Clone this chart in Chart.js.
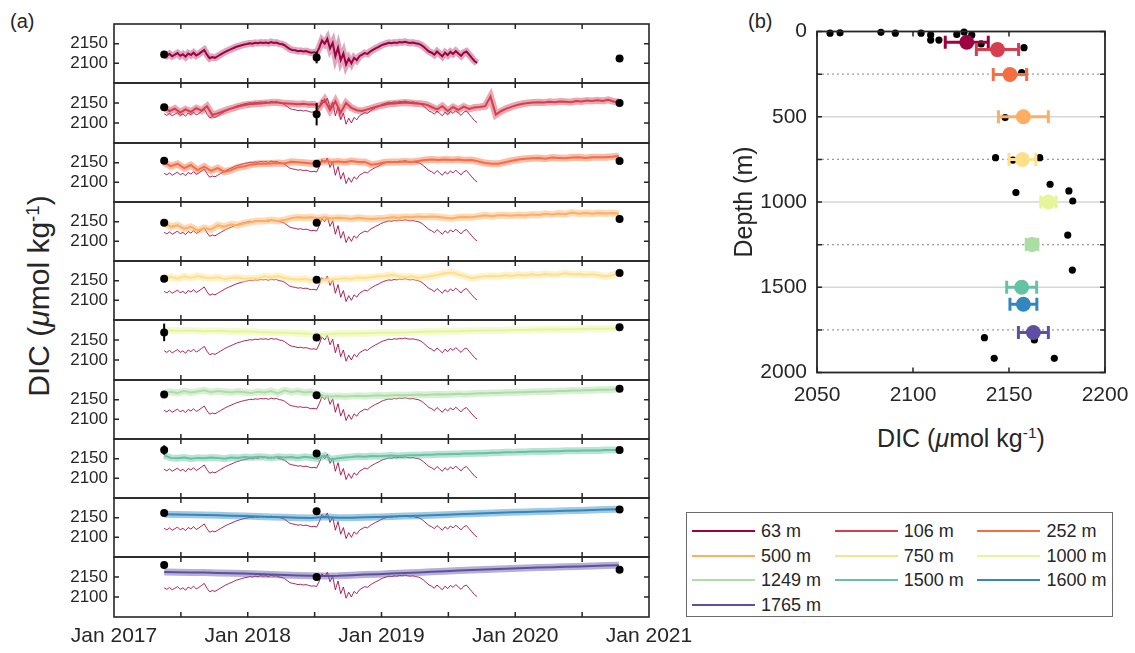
<!DOCTYPE html>
<html><head><meta charset="utf-8">
<script src="https://cdn.jsdelivr.net/npm/chart.js@4.4.0/dist/chart.umd.min.js"></script>
<style>
html,body{margin:0;padding:0;background:#fff;}
body{width:1135px;height:653px;position:relative;overflow:hidden;font-family:"Liberation Sans",Arial,sans-serif;color:#262626;}
canvas{position:absolute;}
.lbl{position:absolute;white-space:nowrap;line-height:1;}
.lbl sup{font-size:0.62em;vertical-align:0.55em;line-height:0;}
#legend{position:absolute;left:686px;top:512px;width:425px;height:103px;border:1px solid #6b6b6b;background:#fff;}
#legend .ln{position:absolute;height:2px;width:63px;}
#legend .tx{position:absolute;font-size:18px;line-height:1;color:#262626;white-space:nowrap;}
</style></head><body>
<div class="lbl" style="left:10px;top:11px;font-size:20px;">(a)</div>
<div class="lbl" style="left:748px;top:11px;font-size:20px;">(b)</div>
<div class="lbl" style="left:39px;top:296px;font-size:30px;transform:translate(-50%,-50%) rotate(-90deg);">DIC (<i>μ</i>mol kg<sup>-1</sup>)</div>
<div class="lbl" style="left:961px;top:438px;font-size:25px;transform:translate(-50%,-50%);">DIC (<i>μ</i>mol kg<sup>-1</sup>)</div>
<div id="legend"></div>
<script>
// ---------------- data ----------------
const depthLabels = ['63 m','106 m','252 m','500 m','750 m','1000 m','1249 m','1500 m','1600 m','1765 m'];
const depths = [63,106,252,500,750,1000,1249,1500,1600,1765];
const colors = ['#9e0142','#d53e4f','#f46d43','#fdae61','#fee08b','#e6f598','#abdda4','#66c2a5','#3288bd','#5e4fa2'];
const seriesStart = 2017.375;
const seriesStep = [0.02,0.04,0.05,0.05,0.05,0.1,0.05,0.05,0.1,0.1];

const dic63 = [2123,2119,2124,2118,2122,2126,2119,2123,2117,2125,2121,2127,2120,2124,2129,2134,2122,2113,2116,2114,
2118,2122,2126,2130,2133,2136,2139,2142,2144,2146,2148,2149,2151,2150,2152,2151,2153,2152,2153,2151,
2154,2152,2153,2150,2149,2146,2141,2136,2134,2133,2131,2132,2130,2131,2129,2127,2128,2126,2140,2158,
2150,2162,2138,2152,2118,2140,2108,2125,2097,2112,2100,2114,2108,2118,2122,2126,2124,2130,2134,2138,
2141,2145,2148,2150,2152,2151,2153,2152,2154,2153,2155,2153,2152,2153,2151,2150,2147,2142,2136,2130,
2127,2122,2130,2124,2118,2127,2121,2129,2124,2131,2125,2119,2127,2130,2122,2114,2106,2101];
const dic106 = [2139,2130,2136,2126,2134,2128,2137,2131,2142,2120,2124,2129,2134,2138,2142,2145,2147,2148,2149,2150,
2151,2152,2150,2149,2148,2147,2148,2146,2147,2140,2158,2132,2154,2126,2150,2138,2132,2130,2134,2138,
2142,2145,2148,2149,2150,2151,2150,2149,2148,2146,2140,2134,2142,2130,2140,2133,2141,2135,2139,2140,
2142,2166,2121,2130,2136,2141,2145,2148,2150,2151,2152,2151,2153,2152,2154,2153,2152,2155,2154,2156,
2155,2157,2155,2158,2154,2152];
const dic252 = [2150,2141,2147,2136,2144,2131,2140,2129,2136,2127,2131,2138,2141,2145,2147,2147,2148,2149,2148,2152,
2151,2150,2148,2150,2154,2152,2153,2151,2154,2152,2152,2145,2147,2151,2152,2152,2153,2152,2154,2157,
2158,2157,2158,2157,2158,2156,2157,2153,2149,2147,2147,2151,2155,2158,2160,2161,2162,2160,2163,2162,
2161,2163,2164,2162,2164,2164,2164,2165,2167];
const dic500 = [2148,2137,2141,2132,2137,2127,2134,2130,2141,2137,2143,2141,2146,2149,2152,2152,2154,2152,2154,2159,
2161,2160,2161,2159,2161,2158,2160,2159,2157,2160,2158,2157,2158,2159,2161,2160,2162,2161,2163,2162,
2163,2162,2160,2158,2161,2162,2161,2164,2166,2164,2166,2166,2165,2167,2166,2168,2167,2170,2168,2171,
2169,2173,2170,2172,2170,2172,2171,2172,2170];
const dic750 = [2157,2159,2155,2161,2157,2162,2158,2156,2159,2154,2157,2158,2155,2157,2156,2161,2159,2162,2157,2154,
2153,2154,2151,2149,2151,2153,2154,2156,2155,2158,2157,2159,2161,2162,2165,2161,2159,2161,2157,2159,
2162,2165,2169,2171,2166,2161,2156,2159,2161,2162,2161,2164,2162,2165,2163,2166,2164,2167,2165,2166,
2169,2166,2167,2165,2166,2164,2161,2164,2169];
const dic1000 = [2174,2173,2174,2172,2173,2171,2172,2170,2169,2168,2167,2165,2164,2166,2166,2167,2168,2168,2169,2170,
2171,2172,2172,2173,2174,2174,2175,2175,2176,2176,2177,2177,2178,2178,2179];
const dic1249 = [2166,2170,2167,2172,2168,2171,2174,2169,2172,2170,2168,2171,2169,2167,2170,2168,2172,2166,2174,2169,
2172,2168,2170,2163,2160,2158,2159,2158,2159,2160,2159,2160,2161,2160,2161,2162,2161,2162,2163,2162,
2163,2164,2163,2164,2165,2164,2165,2166,2166,2167,2167,2168,2168,2169,2169,2170,2170,2171,2171,2172,
2172,2173,2173,2174,2174,2175,2175,2176,2177];
const dic1500 = [2158,2152,2151,2153,2150,2152,2151,2153,2152,2150,2153,2152,2154,2153,2155,2154,2152,2155,2153,2154,
2152,2155,2153,2150,2158,2148,2151,2153,2154,2156,2155,2157,2156,2157,2158,2157,2158,2159,2159,2160,
2160,2161,2161,2162,2162,2163,2163,2164,2164,2165,2165,2166,2166,2167,2167,2168,2168,2168,2169,2169,
2170,2170,2170,2171,2171,2171,2172,2172,2172];
const dic1600 = [2158.5,2158,2157.5,2156.5,2156,2155,2154,2153,2152,2151,2150,2149,2152,2150,2150,2151,2152,2153,2154,2155,
2156,2157.5,2159,2160,2161,2162.5,2163.5,2164.5,2165.5,2166.5,2167.5,2168.5,2169.5,2170.5,2171.5];
const dic1765 = [2162.5,2162,2161.5,2161,2160,2159.5,2158.5,2157.5,2156.5,2155,2154,2153,2152.5,2153,2154.5,2156,2157,2158.5,2160,2161.5,
2163,2164.5,2166,2167.5,2168.5,2170,2171,2172.5,2173.5,2174.5,2175.5,2176.5,2177.5,2178.5,2179.5];

// bottle samples (left panels), one value per depth
const bottleTimes = [2017.375, 2018.515, 2020.78];
const bottleMay2017 = [2122.5,2139.5,2155,2147,2155,2169,2163,2172,2162,2180];
const bottleJul2018 = [2115,2122,2147,2147,2152.5,2156,2161,2163,2166,2150];
const bottleOct2020 = [2112,2150,2154,2157,2169.5,2182,2178,2172,2171,2168];
const errMay2017 = [0,0,0,0,0,22,0,12,0,0];
const errJul2018 = [15,28,0,0,0,0,0,0,0,6];
const errOct2020 = [0,0,0,0,0,0,0,0,0,0];

// panel (b)
const profileDIC = [2128,2144,2150.5,2157.5,2157,2170.5,2162,2156.6,2157.5,2162.7];
const profileErr = [11.2,11,8.7,13,7,4,3,7.8,7,7.8];
const bottleProfileDIC = [2056.8,2062,2083.3,2090.8,2104.2,2109.2,2109.2,2113.5,2122.8,2126.6,2130.6,2135.5,2157.8,2156.6,2148,2143,2152,2166,2171.4,2153.6,2181.2,2183.2,2180.6,2183,2137.2,2163.2,2142.3,2173.6];
const bottleProfileDepth = [10,8,5,10,10,20,50,50,17,3,20,73,95,241,505,740,754,740,896,945,935,994,1194,1399,1796,1809,1917,1917];

// ticks
const yTicksLeft = [2100,2150];
const halfYearTicks = [2017.5,2018,2018.5,2019,2019.5,2020,2020.5];
const xLabelYears = [2017,2018,2019,2020,2021];
const dicTicksB = [2050,2100,2150,2200];
const depthTicks = [0,250,500,750,1000,1250,1500,1750,2000];

// ---------------- drawing ----------------
Chart.defaults.font.family = "'Liberation Sans', Arial, sans-serif";
Chart.defaults.color = '#262626';

const seriesList = [dic63,dic106,dic252,dic500,dic750,dic1000,dic1249,dic1500,dic1600,dic1765];
const bottleVals = [bottleMay2017,bottleJul2018,bottleOct2020];
const bottleErr = [errMay2017,errJul2018,errOct2020];
const TOP0 = 24, PH = 59.25, AX_L = 114, AX_R = 649, CW = 700;

function toPoints(vals, step){ return vals.map((v,k)=>({x: seriesStart + k*step, y: v})); }
function rgba(hex,a){ const n=parseInt(hex.slice(1),16); return `rgba(${n>>16},${(n>>8)&255},${n&255},${a})`; }
function noPad(s){ s.paddingTop = 0; s.paddingBottom = 0; s.paddingLeft = 0; s.paddingRight = 0; }

function leftDeco(i){
  return {
    id:'leftDeco'+i,
    afterDatasetsDraw(chart){
      const {ctx, scales:{x,y}} = chart;
      ctx.save(); ctx.strokeStyle='#000'; ctx.lineWidth=2;
      bottleTimes.forEach((t,k)=>{
        const e = bottleErr[k][i]; if(!e) return;
        const v = bottleVals[k][i], px = x.getPixelForValue(t);
        ctx.beginPath(); ctx.moveTo(px, y.getPixelForValue(v-e)); ctx.lineTo(px, y.getPixelForValue(v+e)); ctx.stroke();
      });
      ctx.restore();
    },
    afterDraw(chart){
      const {ctx, chartArea:a, scales:{x,y}} = chart;
      ctx.save(); ctx.strokeStyle='#262626'; ctx.lineWidth=1.5;
      ctx.beginPath();
      halfYearTicks.forEach(t=>{ const px=x.getPixelForValue(t);
        ctx.moveTo(px,a.top); ctx.lineTo(px,a.top+5); ctx.moveTo(px,a.bottom); ctx.lineTo(px,a.bottom-5); });
      yTicksLeft.forEach(v=>{ const py=y.getPixelForValue(v);
        ctx.moveTo(a.left,py); ctx.lineTo(a.left+5,py); ctx.moveTo(a.right,py); ctx.lineTo(a.right-5,py); });
      ctx.stroke();
      ctx.lineWidth=1.6;
      ctx.strokeRect(a.left,a.top,a.right-a.left,a.bottom-a.top);
      ctx.restore();
    }
  };
}

function leftPanel(i){
  const isBottom = (i===9);
  const t = Math.round(TOP0 + i*PH), b = Math.round(TOP0 + (i+1)*PH);
  const padT = 22, padB = 22, xH = 38;
  const h = padT + (b-t) + (isBottom ? xH : padB);
  const cv = document.createElement('canvas');
  cv.width = CW; cv.height = h;
  cv.style.left = '0px'; cv.style.top = (t-padT)+'px';
  cv.style.width = CW+'px'; cv.style.height = h+'px';
  document.body.appendChild(cv);
  const col = colors[i];
  const datasets = [
    {data: bottleTimes.map((tt,k)=>({x:tt, y:bottleVals[k][i]})), pointRadius:4, pointBackgroundColor:'#000', pointBorderWidth:0, showLine:false, order:0, clip:false},
    {data: toPoints(seriesList[i], seriesStep[i]), showLine:true, borderColor: col, borderWidth: 2, pointRadius:0, order:1},
    {data: toPoints(seriesList[i], seriesStep[i]), showLine:true, borderColor: rgba(col, i===0?0.35:0.45), borderWidth: 7, pointRadius:0, order:2}
  ];
  if (i>0) datasets.push({data: toPoints(dic63, seriesStep[0]), showLine:true, borderColor:'rgba(158,1,66,0.85)', borderWidth:1, pointRadius:0, order:3});
  new Chart(cv, {
    type:'scatter',
    data:{datasets},
    options:{
      responsive:false, animation:false, devicePixelRatio:1, events:[],
      layout:{padding:{left:0, right: CW-AX_R, top:padT, bottom: isBottom?0:padB}},
      plugins:{legend:{display:false}, tooltip:{enabled:false}},
      elements:{line:{tension:0}},
      scales:{
        x:{type:'linear', min:2017, max:2021, display:isBottom,
           grid:{display:false, drawTicks:false}, border:{display:false},
           afterBuildTicks:s=>{ s.ticks = xLabelYears.map(v=>({value:v})); },
           afterFit:s=>{ s.height = isBottom ? xH : 0; noPad(s); },
           ticks:{autoSkip:false, maxRotation:0, padding:7, font:{size:21}, color:'#262626', callback:v=>'Jan '+v}},
        y:{type:'linear', min:2050, max:2200,
           grid:{display:false, drawTicks:false}, border:{display:false},
           afterBuildTicks:s=>{ s.ticks = yTicksLeft.map(v=>({value:v})); },
           afterFit:s=>{ s.width = AX_L; noPad(s); },
           ticks:{padding:6, font:{size:17}, color:'#262626', callback:v=>String(v)}}
      }
    },
    plugins:[leftDeco(i)]
  });
}
for (let i=0;i<10;i++) leftPanel(i);

// ---------- panel (b) ----------
const rightDeco = {
  id:'rightDeco',
  beforeDatasetsDraw(chart){
    const {ctx, chartArea:a, scales:{y}} = chart;
    ctx.save();
    depthTicks.slice(1,-1).forEach(d=>{
      const py = y.getPixelForValue(d);
      ctx.beginPath();
      if (d%500===0){ ctx.setLineDash([]); ctx.strokeStyle='#d6d6d6'; ctx.lineWidth=1.6; }
      else { ctx.setLineDash([2,3]); ctx.strokeStyle='#9c9c9c'; ctx.lineWidth=1.2; }
      ctx.moveTo(a.left,py); ctx.lineTo(a.right,py); ctx.stroke();
    });
    ctx.restore();
  },
  beforeDatasetDraw(chart,args){
    if (args.index!==1) return;
    const {ctx, scales:{x,y}} = chart;
    ctx.save(); ctx.lineWidth=3;
    depths.forEach((d,k)=>{
      const py=y.getPixelForValue(d), x0=x.getPixelForValue(profileDIC[k]-profileErr[k]), x1=x.getPixelForValue(profileDIC[k]+profileErr[k]);
      ctx.strokeStyle=colors[k];
      ctx.beginPath();
      ctx.moveTo(x0,py); ctx.lineTo(x1,py);
      ctx.moveTo(x0,py-6.5); ctx.lineTo(x0,py+6.5);
      ctx.moveTo(x1,py-6.5); ctx.lineTo(x1,py+6.5);
      ctx.stroke();
    });
    ctx.restore();
  },
  afterDraw(chart){
    const {ctx, chartArea:a, scales:{x,y}} = chart;
    ctx.save(); ctx.strokeStyle='#262626'; ctx.lineWidth=1.5;
    ctx.beginPath();
    dicTicksB.forEach(v=>{ const px=x.getPixelForValue(v);
      ctx.moveTo(px,a.top); ctx.lineTo(px,a.top+5); ctx.moveTo(px,a.bottom); ctx.lineTo(px,a.bottom-5); });
    depthTicks.forEach(d=>{ const py=y.getPixelForValue(d);
      ctx.moveTo(a.left,py); ctx.lineTo(a.left+5,py); ctx.moveTo(a.right,py); ctx.lineTo(a.right-5,py); });
    ctx.stroke();
    ctx.lineWidth=1.8;
    ctx.strokeRect(a.left,a.top,a.right-a.left,a.bottom-a.top);
    ctx.restore();
  }
};
(function(){
  const W=430, H=470;
  const cv=document.createElement('canvas');
  cv.width=W; cv.height=H; cv.style.left='700px'; cv.style.top='0px'; cv.style.width=W+'px'; cv.style.height=H+'px';
  document.body.appendChild(cv);
  new Chart(cv,{
    type:'scatter',
    data:{datasets:[
      {data: bottleProfileDIC.map((v,k)=>({x:v, y:bottleProfileDepth[k]})), pointRadius:3.6, pointBackgroundColor:'#000', pointBorderWidth:0, order:2, clip:false},
      {data: profileDIC.map((v,k)=>({x:v, y:depths[k]})), pointRadius:7.5, pointBackgroundColor:colors, pointBorderWidth:0, order:0, clip:false}
    ]},
    options:{
      responsive:false, animation:false, devicePixelRatio:1, events:[],
      layout:{padding:{left:27, right:25, top:31.5, bottom:0}},
      plugins:{legend:{display:false}, tooltip:{enabled:false}},
      scales:{
        x:{type:'linear', min:2050, max:2200, grid:{display:false, drawTicks:false}, border:{display:false},
           afterBuildTicks:s=>{ s.ticks = dicTicksB.map(v=>({value:v})); },
           afterFit:s=>{ s.height = 97.5; noPad(s); },
           ticks:{autoSkip:false, maxRotation:0, padding:10, font:{size:21}, color:'#262626', callback:v=>String(v)}},
        y:{type:'linear', reverse:true, min:0, max:2000, grid:{display:false, drawTicks:false}, border:{display:false},
           afterBuildTicks:s=>{ s.ticks = depthTicks.map(v=>({value:v})); },
           afterFit:s=>{ s.width = 90; noPad(s); },
           title:{display:true, text:'Depth (m)', font:{size:25}, color:'#262626', padding:{top:3,bottom:4}},
           ticks:{padding:10, font:{size:21}, color:'#262626', callback:v=> (v%500===0 ? String(v) : '')}}
      }
    },
    plugins:[rightDeco]
  });
})();

// ---------- legend ----------
(function(){
  const leg=document.getElementById('legend');
  depthLabels.forEach((lab,k)=>{
    const col=k%3, row=Math.floor(k/3);
    const x0 = 5 + col*142.7, yc = 18 + row*24.5;
    const ln=document.createElement('div'); ln.className='ln';
    ln.style.left=x0+'px'; ln.style.top=(yc-1)+'px'; ln.style.background=colors[k];
    const tx=document.createElement('div'); tx.className='tx'; tx.textContent=lab;
    tx.style.left=(x0+69)+'px'; tx.style.top=(yc-9)+'px';
    leg.appendChild(ln); leg.appendChild(tx);
  });
})();
</script>
</body></html>
